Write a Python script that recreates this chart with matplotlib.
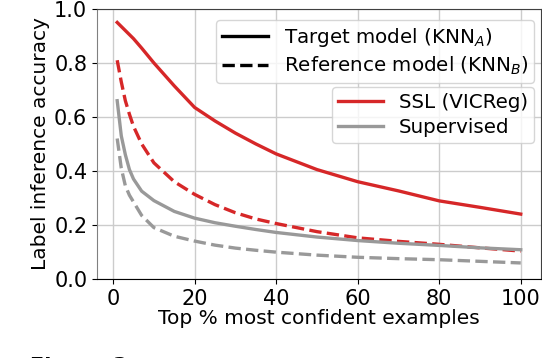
import matplotlib
matplotlib.use("Agg")
import matplotlib.pyplot as plt
from matplotlib.lines import Line2D

# Top % of most confident examples
pct = [1, 2, 3, 4, 5, 7, 10, 15, 20, 25, 30, 35, 40, 50, 60, 70, 80, 90, 100]

# SSL (VICReg)
ssl_target = [0.95, 0.935, 0.92, 0.905, 0.89, 0.855, 0.80, 0.715, 0.635, 0.585,
              0.54, 0.50, 0.463, 0.405, 0.36, 0.326, 0.289, 0.265, 0.24]
ssl_reference = [0.81, 0.73, 0.66, 0.61, 0.565, 0.50, 0.43, 0.36, 0.313, 0.275,
                 0.245, 0.222, 0.205, 0.175, 0.152, 0.139, 0.128, 0.115, 0.103]

# Supervised
sup_target = [0.66, 0.53, 0.46, 0.405, 0.37, 0.325, 0.29, 0.25, 0.225, 0.208,
              0.195, 0.183, 0.172, 0.155, 0.142, 0.132, 0.124, 0.115, 0.108]
sup_reference = [0.52, 0.41, 0.345, 0.31, 0.285, 0.235, 0.19, 0.158, 0.14, 0.125,
                 0.114, 0.106, 0.099, 0.088, 0.08, 0.075, 0.071, 0.065, 0.059]

red = "#d62728"
gray = "#999999"

fig = plt.figure(figsize=(5.42, 3.58), dpi=100)
ax = fig.add_axes([0.179, 0.221, 0.819, 0.754])

ax.plot(pct, ssl_target, color=red, lw=2.4)
ax.plot(pct, ssl_reference, color=red, lw=2.4, ls="--")
ax.plot(pct, sup_target, color=gray, lw=2.4)
ax.plot(pct, sup_reference, color=gray, lw=2.4, ls="--")

ax.set_ylim(0, 1.0)
ax.set_xticks([0, 20, 40, 60, 80, 100])
ax.set_yticks([0.0, 0.2, 0.4, 0.6, 0.8, 1.0])
ax.tick_params(labelsize=15)
ax.grid(True, color="#cccccc", lw=1)
ax.set_axisbelow(True)

ax.set_xlabel("Top % most confident examples", fontsize=14.5, labelpad=0)
ax.set_ylabel("Label inference accuracy", fontsize=14.5, labelpad=3)

ax.spines["left"].set_color("#808080")
ax.spines["top"].set_color("#404040")
ax.spines["right"].set_color("#404040")
ax.spines["bottom"].set_color("black")

# legend for line style
style_handles = [Line2D([], [], color="black", lw=2.4),
                 Line2D([], [], color="black", lw=2.4, ls="--")]
leg1 = ax.legend(style_handles,
                 [r"Target model (KNN$_A$)", r"Reference model (KNN$_B$)"],
                 loc="upper right", bbox_to_anchor=(0.985, 0.96),
                 fontsize=14.3, handlelength=2.3, borderpad=0.3,
                 labelspacing=0.3, handletextpad=0.8, borderaxespad=0)
ax.add_artist(leg1)

# legend for model type
model_handles = [Line2D([], [], color=red, lw=2.4),
                 Line2D([], [], color=gray, lw=2.4)]
ax.legend(model_handles, ["SSL (VICReg)", "Supervised"],
          loc="upper right", bbox_to_anchor=(0.985, 0.712),
          fontsize=14.3, handlelength=2.3, borderpad=0.3,
          labelspacing=0.3, handletextpad=0.8, borderaxespad=0)

# caption cut off at the bottom of the crop
fig.text(0.055, 0.002, "Figure 3:", fontsize=15, fontweight="bold", va="top")

fig.savefig("out.png", dpi=100)
